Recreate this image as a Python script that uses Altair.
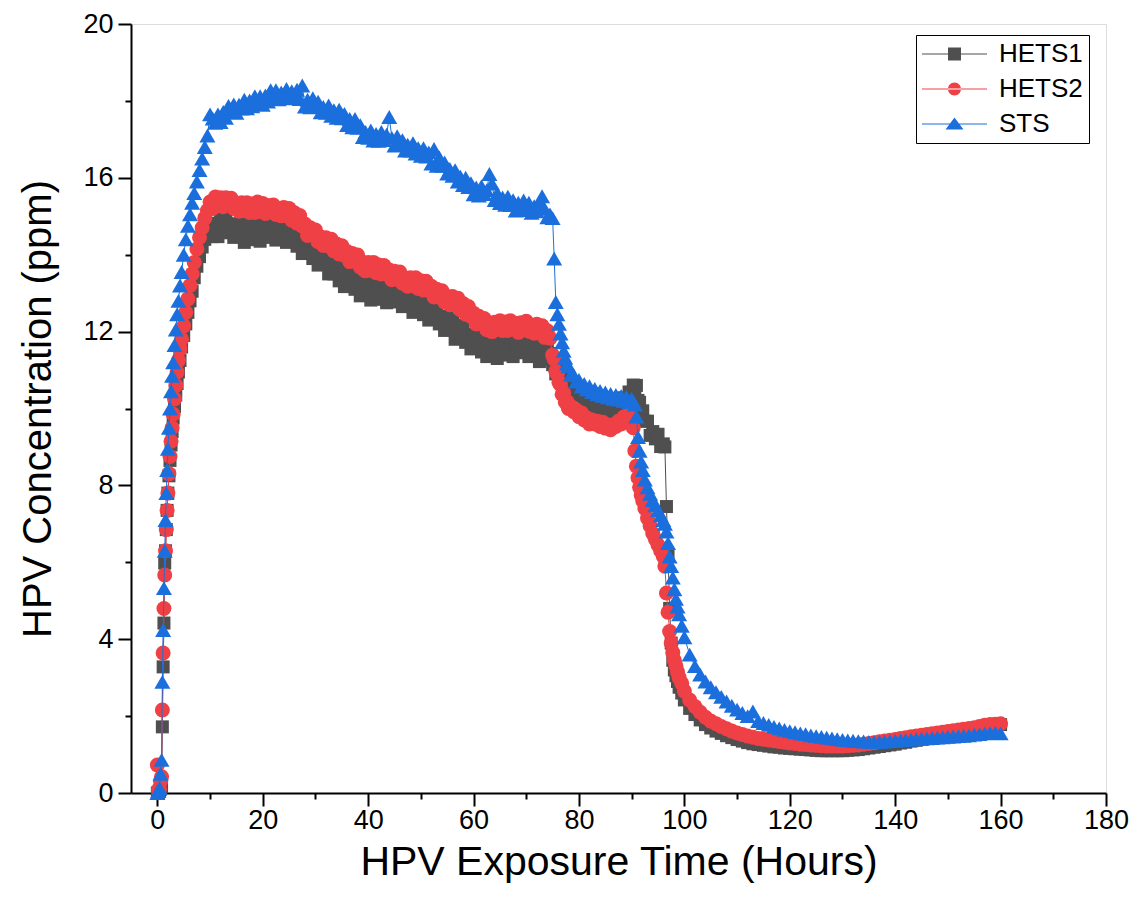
import altair as alt
import pandas as pd

# ---------------- data ----------------
SERIES = ["HETS1", "HETS2", "STS"]
COLORS = ["#4f4f4f", "#ef4046", "#1b6fdd"]
SHAPES = ["square", "circle", "triangle-up"]
SIZES = [169, 225, 256]

HOURS_RISE = [0, 0.2, 0.4, 0.6, 0.8, 0.95, 1.1, 1.25, 1.4, 1.55, 1.7, 1.85, 2.0, 2.2, 2.4,
              2.6, 2.8, 3.0, 3.25, 3.5, 3.75, 4.0, 4.3, 4.6, 5.0, 5.4, 5.8, 6.2, 6.6, 7.0,
              7.5, 8.0, 8.5, 9.0, 9.5]
HOURS_PLATEAU = [10, 10.5, 11, 11.5, 12, 12.5, 13, 13.5, 14, 14.5, 15, 15.5, 16, 16.5, 17, 17.5, 18, 18.5, 19, 19.5,
                 20, 20.5, 21, 21.5, 22, 22.5, 23, 23.5, 24, 24.5, 25, 25.5, 26, 26.5, 27, 27.5, 28, 28.5, 29, 29.5,
                 30, 30.5, 31, 31.5, 32, 32.5, 33, 33.5, 34, 34.5, 35, 35.5, 36, 36.5, 37, 37.5, 38, 38.5, 39, 39.5,
                 40, 40.5, 41, 41.5, 42, 42.5, 43, 43.5, 44, 44.5, 45, 45.5, 46, 46.5, 47, 47.5, 48, 48.5, 49, 49.5,
                 50, 50.5, 51, 51.5, 52, 52.5, 53, 53.5, 54, 54.5, 55, 55.5, 56, 56.5, 57, 57.5, 58, 58.5, 59, 59.5,
                 60, 60.5, 61, 61.5, 62, 62.5, 63, 63.5, 64, 64.5, 65, 65.5, 66, 66.5, 67, 67.5, 68, 68.5, 69, 69.5,
                 70, 70.5, 71, 71.5, 72, 72.5, 73, 73.5, 74]
HOURS_DROP = [74.5, 75.0, 75.3, 75.6, 75.9, 76.2, 76.5, 76.8, 77.1, 77.4, 77.7,
              78.0, 78.5, 79.0, 79.5, 80.0, 80.5, 81.0, 81.5, 82.0, 82.5, 83.0, 83.5, 84.0, 84.5,
              85.0, 85.5, 86.0, 86.5, 87.0, 87.5, 88.0, 88.5, 89.0, 89.5, 90.0,
              90.3, 90.6, 90.9, 91.2, 91.5, 91.8, 92.1,
              92.5, 93.0, 93.5, 94.0, 94.5, 95.0, 95.5, 96.0,
              96.3, 96.6, 96.9, 97.2, 97.5, 97.8, 98.1, 98.4, 98.7, 99.0, 99.5, 100.0]
HOURS_TAIL = [101, 102, 103, 104, 105, 106, 107, 108, 109, 110,
              111, 112, 113, 114, 115, 116, 117, 118, 119, 120,
              121, 122, 123, 124, 125, 126, 127, 128, 129, 130,
              131, 132, 133, 134, 135, 136, 137, 138, 139, 140,
              141, 142, 143, 144, 145, 146, 147, 148, 149, 150,
              151, 152, 153, 154, 155, 156, 157, 158, 159, 160]

HETS1_RISE = [0.0, 0.0, 0.05, 0.1, 0.16, 1.72, 3.28, 4.42, 5.98, 6.3, 6.85, 7.35, 7.8, 8.25, 8.65,
              9.05, 9.4, 9.75, 10.05, 10.35, 10.65, 10.95, 11.25, 11.6, 11.9, 12.2, 12.5, 12.8, 13.05,
              13.4, 13.7, 13.95, 14.2, 14.4, 14.55]
HETS1_PLATEAU = [14.82, 14.47, 14.75, 14.47, 14.93, 14.67, 15.0, 14.57, 14.8, 14.45, 14.8, 14.57, 14.8, 14.32, 14.63, 14.43, 14.77, 14.39, 14.65, 14.35,
                 14.78, 14.52, 14.85, 14.45, 14.7, 14.38, 14.75, 14.55, 14.8, 14.32, 14.58, 14.36, 14.67, 14.22, 14.4, 14.03, 14.38, 14.07, 14.35, 13.9,
                 14.1, 13.73, 14.05, 13.8, 14.0, 13.5, 13.78, 13.5, 13.77, 13.32, 13.5, 13.17, 13.58, 13.27, 13.55, 13.1, 13.3, 12.93, 13.25, 13.05,
                 13.3, 12.82, 13.13, 12.93, 13.27, 12.84, 13.05, 12.75, 13.18, 12.89, 13.2, 12.77, 13.0, 12.65, 13.0, 12.77, 13.0, 12.5, 12.78, 12.55,
                 12.87, 12.44, 12.65, 12.3, 12.68, 12.37, 12.65, 12.2, 12.4, 12.03, 12.35, 12.1, 12.3, 11.8, 12.08, 11.85, 12.17, 11.72, 11.9, 11.55,
                 11.93, 11.62, 11.9, 11.47, 11.7, 11.35, 11.7, 11.5, 11.75, 11.3, 11.63, 11.43, 11.77, 11.39, 11.65, 11.35, 11.78, 11.52, 11.85, 11.45,
                 11.7, 11.35, 11.7, 11.47, 11.7, 11.22, 11.53, 11.28, 11.57]
HETS1_DROP = [11.43, 11.14, 11.18, 10.9, 11.06, 10.85, 11.0, 10.71, 10.81, 10.57, 10.74,
              10.57, 10.67, 10.35, 10.5, 10.33, 10.48, 10.19, 10.28, 10.05, 10.26, 10.05, 10.2, 9.93, 10.06,
              9.85, 10.05, 9.92, 10.07, 9.82, 10.05, 9.98, 10.28, 10.19, 10.43, 10.3,
              10.61, 10.45, 10.6, 10.21, 10.16, 9.82, 9.94,
              9.67, 9.67, 9.3, 9.4, 9.21, 9.33, 9.01, 9.08,
              9.0, 7.45, 6.2, 4.8, 3.9, 3.45, 3.2, 3.05, 2.9, 2.75, 2.6, 2.42]
HETS1_TAIL = [2.2, 2.04, 1.9, 1.78, 1.69, 1.61, 1.55, 1.49, 1.44, 1.39,
              1.35, 1.31, 1.28, 1.26, 1.24, 1.22, 1.2, 1.19, 1.17, 1.16,
              1.15, 1.14, 1.13, 1.12, 1.11, 1.1, 1.1, 1.1, 1.1, 1.1,
              1.11, 1.12, 1.13, 1.15, 1.17, 1.19, 1.21, 1.23, 1.25, 1.27,
              1.3, 1.32, 1.35, 1.37, 1.4, 1.42, 1.45, 1.47, 1.5, 1.52,
              1.55, 1.57, 1.6, 1.62, 1.65, 1.68, 1.71, 1.74, 1.76, 1.78]

HETS2_RISE = [0.73, 0.08, 0.1, 0.3, 0.42, 2.16, 3.64, 4.8, 5.67, 6.3, 6.85, 7.35, 7.8, 8.3, 8.75,
              9.15, 9.5, 9.85, 10.25, 10.6, 10.95, 11.25, 11.55, 11.8, 12.15, 12.5, 12.85, 13.2, 13.5,
              13.8, 14.15, 14.45, 14.7, 14.95, 15.15]
HETS2_PLATEAU = [15.37, 15.2, 15.5, 15.33, 15.48, 15.25, 15.48, 15.33, 15.47, 15.2, 15.34, 15.13, 15.35, 15.15, 15.35, 15.1, 15.32, 15.1, 15.37, 15.19,
                 15.33, 15.07, 15.28, 15.13, 15.29, 15.05, 15.21, 15.01, 15.23, 15.03, 15.2, 14.9, 15.09, 14.82, 15.02, 14.75, 14.8, 14.5, 14.7, 14.53,
                 14.64, 14.34, 14.46, 14.24, 14.44, 14.23, 14.4, 14.1, 14.28, 14.02, 14.23, 13.99, 14.08, 13.82, 14.03, 13.87, 13.99, 13.68, 13.8, 13.58,
                 13.8, 13.6, 13.8, 13.53, 13.73, 13.5, 13.72, 13.5, 13.6, 13.35, 13.57, 13.42, 13.55, 13.26, 13.39, 13.18, 13.4, 13.2, 13.4, 13.12,
                 13.32, 13.08, 13.31, 13.08, 13.18, 12.9, 13.1, 12.94, 13.06, 12.77, 12.91, 12.7, 12.91, 12.69, 12.87, 12.57, 12.73, 12.45, 12.65, 12.4,
                 12.48, 12.2, 12.4, 12.23, 12.34, 12.05, 12.19, 12.0, 12.24, 12.06, 12.28, 12.03, 12.25, 12.03, 12.28, 12.08, 12.21, 11.98, 12.23, 12.11,
                 12.27, 12.01, 12.16, 11.96, 12.19, 11.98, 12.15, 11.85, 12.02]
HETS2_DROP = [11.83, 11.39, 11.28, 10.97, 10.9, 10.68, 10.62, 10.37, 10.4, 10.17, 10.18,
              10.0, 10.05, 9.92, 9.96, 9.79, 9.88, 9.7, 9.75, 9.6, 9.7, 9.6, 9.67, 9.53, 9.64,
              9.49, 9.57, 9.45, 9.58, 9.53, 9.67, 9.6, 9.78, 9.69, 9.85, 9.77,
              9.5, 8.9, 8.5, 8.2, 7.95, 7.75, 7.6,
              7.4, 7.15, 6.95, 6.75, 6.6, 6.45, 6.3, 6.15,
              5.9, 5.2, 4.7, 4.2, 3.9, 3.65, 3.45, 3.3, 3.15, 3.0, 2.85, 2.65]
HETS2_TAIL = [2.42, 2.25, 2.1, 1.97, 1.87, 1.8, 1.73, 1.67, 1.61, 1.56,
              1.52, 1.48, 1.45, 1.42, 1.4, 1.38, 1.36, 1.34, 1.32, 1.3,
              1.29, 1.27, 1.26, 1.25, 1.24, 1.23, 1.22, 1.22, 1.22, 1.22,
              1.23, 1.24, 1.25, 1.27, 1.29, 1.31, 1.33, 1.35, 1.37, 1.39,
              1.42, 1.44, 1.46, 1.48, 1.5, 1.52, 1.54, 1.56, 1.58, 1.6,
              1.62, 1.64, 1.66, 1.68, 1.7, 1.73, 1.76, 1.78, 1.79, 1.8]

STS_RISE = [0.0, 0.05, 0.13, 0.5, 0.86, 2.89, 4.24, 5.33, 6.3, 7.1, 7.8, 8.4, 8.95, 9.5, 10.0,
            10.45, 10.85, 11.2, 11.65, 12.05, 12.45, 12.8, 13.2, 13.55, 14.0, 14.4, 14.75, 15.05, 15.35,
            15.6, 15.9, 16.2, 16.5, 16.8, 17.1]
STS_PLATEAU = [17.65, 17.54, 17.43, 17.65, 17.45, 17.71, 17.56, 17.87, 17.74, 17.91, 17.69, 17.9, 17.8, 18.03, 17.81, 18.01, 17.86, 18.12, 17.95, 18.12,
               17.9, 18.14, 17.98, 18.28, 18.13, 18.28, 18.04, 18.22, 18.1, 18.31, 18.07, 18.25, 18.08, 18.29, 18.05, 18.4, 17.85, 18.03, 17.83, 18.07,
               17.88, 17.98, 17.7, 17.84, 17.69, 17.88, 17.61, 17.76, 17.56, 17.77, 17.55, 17.66, 17.37, 17.53, 17.31, 17.53, 17.3, 17.37, 17.06, 17.19,
               17.04, 17.23, 16.97, 17.14, 16.96, 17.19, 16.98, 17.12, 17.58, 17.04, 16.84, 17.08, 16.88, 16.98, 16.71, 16.86, 16.71, 16.9, 16.63, 16.77,
               16.57, 16.77, 16.55, 16.66, 16.37, 16.75, 16.31, 16.53, 16.31, 16.4, 16.11, 16.23, 16.05, 16.2, 15.9, 16.03, 15.81, 16.0, 15.76, 15.86,
               15.57, 15.75, 15.54, 15.78, 15.58, 15.68, 16.1, 15.85, 15.42, 15.6, 15.34, 15.49, 15.3, 15.51, 15.29, 15.42, 15.15, 15.35, 15.16, 15.41,
               15.23, 15.35, 15.09, 15.26, 15.13, 15.32, 15.52, 15.19, 14.97]
STS_DROP = [15.05, 14.95, 13.9, 12.77, 12.45, 12.2, 11.95, 11.72, 11.5, 11.32, 11.17,
            11.1, 10.88, 10.87, 10.7, 10.74, 10.57, 10.64, 10.5, 10.58, 10.43, 10.51, 10.37, 10.46, 10.33,
            10.42, 10.29, 10.38, 10.25, 10.35, 10.23, 10.33, 10.2, 10.3, 10.17, 10.25,
            10.18, 10.1, 9.79, 9.26, 8.9, 8.62, 8.4,
            8.15, 7.95, 7.78, 7.62, 7.48, 7.35, 7.22, 7.1,
            7.0, 6.8, 6.5, 6.15, 5.9, 5.6, 5.3, 5.05, 4.85, 4.65, 4.35, 4.05]
STS_TAIL = [3.6, 3.3, 3.08, 2.9, 2.75, 2.62, 2.5, 2.38, 2.27, 2.17,
            2.08, 2.0, 2.12, 1.87, 1.82, 1.77, 1.72, 1.68, 1.64, 1.61,
            1.58, 1.55, 1.53, 1.5, 1.48, 1.46, 1.44, 1.42, 1.4, 1.38,
            1.37, 1.36, 1.35, 1.34, 1.33, 1.33, 1.33, 1.34, 1.35, 1.36,
            1.37, 1.38, 1.39, 1.4, 1.41, 1.42, 1.43, 1.44, 1.45, 1.46,
            1.47, 1.48, 1.49, 1.5, 1.52, 1.53, 1.55, 1.56, 1.57, 1.55]

X_TICKS = [0, 10, 20, 30, 40, 50, 60, 70, 80, 90, 100, 110, 120, 130, 140, 150, 160, 170, 180]
Y_TICKS = [0, 2, 4, 6, 8, 10, 12, 14, 16, 18, 20]

# ---------------- table ----------------
hours = HOURS_RISE + HOURS_PLATEAU + HOURS_DROP + HOURS_TAIL
values = {
    "HETS1": HETS1_RISE + HETS1_PLATEAU + HETS1_DROP + HETS1_TAIL,
    "HETS2": HETS2_RISE + HETS2_PLATEAU + HETS2_DROP + HETS2_TAIL,
    "STS": STS_RISE + STS_PLATEAU + STS_DROP + STS_TAIL,
}
rows = []
for s in SERIES:
    v = values[s]
    assert len(v) == len(hours), (s, len(v), len(hours))
    for t, c in zip(hours, v):
        rows.append({"hours": t, "conc": c, "series": s})
df = pd.DataFrame(rows)

FONT = "Liberation Sans"

x_enc = alt.X(
    "hours:Q",
    scale=alt.Scale(domain=[-5, 180], nice=False, zero=False),
    axis=alt.Axis(
        values=X_TICKS,
        labelExpr="datum.value % 20 === 0 ? datum.label : ''",
        tickSize={"condition": {"test": "datum.value % 20 === 0", "value": 13}, "value": 6},
        grid=False, domainColor="black", domainWidth=2, tickColor="black", tickWidth=2,
        labelFont=FONT, labelFontSize=27, labelColor="black", labelPadding=1,
        labelFlush=False, labelOverlap=False,
        title="HPV Exposure Time (Hours)", titleFont=FONT, titleFontSize=41,
        titleFontWeight="normal", titleColor="black",
        titleX=487.5, titleY=69, titleAlign="center", titleBaseline="middle",
    ),
)
y_enc = alt.Y(
    "conc:Q",
    scale=alt.Scale(domain=[0, 20], nice=False, zero=False),
    axis=alt.Axis(
        values=Y_TICKS,
        labelExpr="datum.value % 4 === 0 ? datum.label : ''",
        tickSize={"condition": {"test": "datum.value % 4 === 0", "value": 13}, "value": 6},
        grid=False, domainColor="black", domainWidth=2, tickColor="black", tickWidth=2,
        labelFont=FONT, labelFontSize=27, labelColor="black", labelPadding=5,
        labelFlush=False, labelOverlap=False,
        title="HPV Concentration (ppm)", titleFont=FONT, titleFontSize=40,
        titleFontWeight="normal", titleColor="black",
        titleX=-93, titleY=384.5, titleAngle=270, titleAlign="center", titleBaseline="middle",
    ),
)

layers = []
for s, col, shp, sz in zip(SERIES, COLORS, SHAPES, SIZES):
    base = alt.Chart(df).transform_filter(alt.datum.series == s)
    layers.append(base.mark_line(strokeWidth=1, color=col).encode(x=x_enc, y=y_enc))
    layers.append(
        base.mark_point(filled=True, opacity=1, strokeWidth=0).encode(
            x=x_enc, y=y_enc, color=alt.value(col), shape=alt.value(shp), size=alt.value(sz)
        )
    )

# legend: a line through a marker, drawn as custom symbol paths (unit = sqrt(size)/2 = 13 px)
LEGEND_PATHS = [
    "M-1,-0.04H4V0.04H-1Z M1,-0.5H2V0.5H1Z",
    "M-1,-0.04H4V0.04H-1Z M1,0A0.5,0.5,0,1,0,2,0A0.5,0.5,0,1,0,1,0Z",
    "M-1,-0.04H4V0.04H-1Z M1.5,-0.5L2.19,0.43L0.81,0.43Z",
]
leg = alt.Legend(
    title=None, orient="none", legendX=785, legendY=11, direction="vertical",
    symbolSize=676, symbolStrokeWidth=0, labelFont=FONT, labelFontSize=26, labelColor="black",
    labelOffset=51, rowPadding=9, padding=6, strokeColor="black", fillColor="white",
)
legend_layer = alt.Chart(df).transform_filter("datum.hours < -100").mark_point(
    filled=True, opacity=1
).encode(
    x=x_enc, y=y_enc,
    color=alt.Color("series:N", scale=alt.Scale(domain=SERIES, range=COLORS), legend=leg),
    shape=alt.Shape("series:N", scale=alt.Scale(domain=SERIES, range=LEGEND_PATHS), legend=leg),
)
layers.append(legend_layer)

chart = alt.layer(*layers).properties(
    width=975, height=769,
    autosize=alt.AutoSizeParams(type="none"),
    padding={"left": 123, "top": 16, "right": 30, "bottom": 100},
).configure_view(stroke="black", strokeWidth=2).configure(background="white")

chart.save("out.html", embed_options={"renderer": "svg", "actions": False})
